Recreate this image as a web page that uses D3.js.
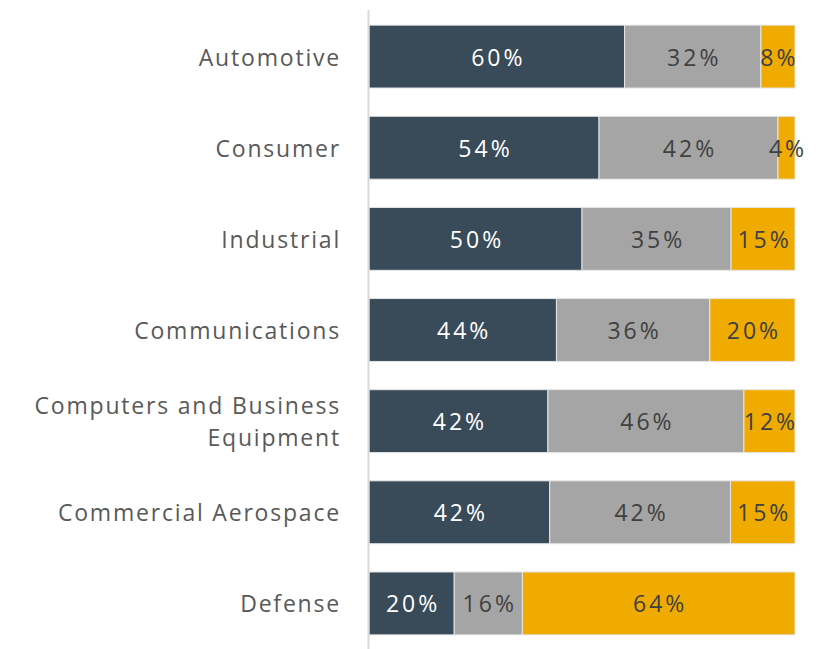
<!DOCTYPE html>
<html><head><meta charset="utf-8">
<script src="https://cdn.jsdelivr.net/npm/d3@7"></script>
<style>body{margin:0;background:#fff}svg{display:block}</style>
</head><body>
<svg id="c" width="820" height="649"></svg>
<script>
const categories = ["Automotive","Consumer","Industrial","Communications","Computers and Business\nEquipment","Commercial Aerospace","Defense"];
const seriesA = [60,54,50,44,42,42,20];
const seriesB = [32,42,35,36,46,42,16];
const seriesC = [8,4,15,20,12,15,64];
const seriesKeys = ["a","b","c"];
const colors = {a:"#394a59", b:"#a5a5a5", c:"#f0ab00"};
const textColors = {a:"#ffffff", b:"#404040", c:"#404040"};

const svg = d3.select("#c");
const rows = categories.map((c,i)=>({cat:c, a:seriesA[i], b:seriesB[i], c:seriesC[i]}));
const stack = d3.stack().keys(seriesKeys).offset(d3.stackOffsetExpand);
const stacked = stack(rows);

const x = d3.scaleLinear().domain([0,1]).range([369,795]);
const y = d3.scaleBand().domain(categories).range([11,649]).paddingInner(0.31).paddingOuter(0.155);

const g = svg.append("g");
stacked.forEach(s=>{
  g.selectAll(null).data(s).enter().append("rect")
    .attr("x",d=>x(d[0])).attr("y",d=>y(d.data.cat))
    .attr("width",d=>x(d[1])-x(d[0])).attr("height",y.bandwidth())
    .attr("fill",colors[s.key]).attr("stroke","#e6e6e6").attr("stroke-width",1);
});
stacked.forEach(s=>{
  g.selectAll(null).data(s).enter().append("text")
    .attr("x",d=>(x(d[0])+x(d[1]))/2+1.5).attr("y",d=>y(d.data.cat)+y.bandwidth()/2)
    .attr("text-anchor","middle").attr("dominant-baseline","central")
    .attr("fill",textColors[s.key])
    .style("font-family","'Open Sans', sans-serif").style("font-size","23px").style("letter-spacing","3px")
    .text(d=>d.data[s.key]+"%");
});

// axis
svg.append("line").attr("x1",368.5).attr("x2",368.5).attr("y1",10).attr("y2",649).attr("stroke","#d9d9d9").attr("stroke-width",2);

// category labels
const lab = svg.append("g");
categories.forEach(c=>{
  const lines = c.split("\n");
  const cy = y(c)+y.bandwidth()/2;
  const lh = 32;
  lines.forEach((l,j)=>{
    lab.append("text").attr("x",341).attr("y",cy+(j-(lines.length-1)/2)*lh)
      .attr("text-anchor","end").attr("dominant-baseline","central")
      .attr("fill","#595959")
      .style("font-family","'Open Sans', sans-serif").style("font-size","23px").style("letter-spacing","1.8px")
      .text(l);
  });
});
</script>
</body></html>
